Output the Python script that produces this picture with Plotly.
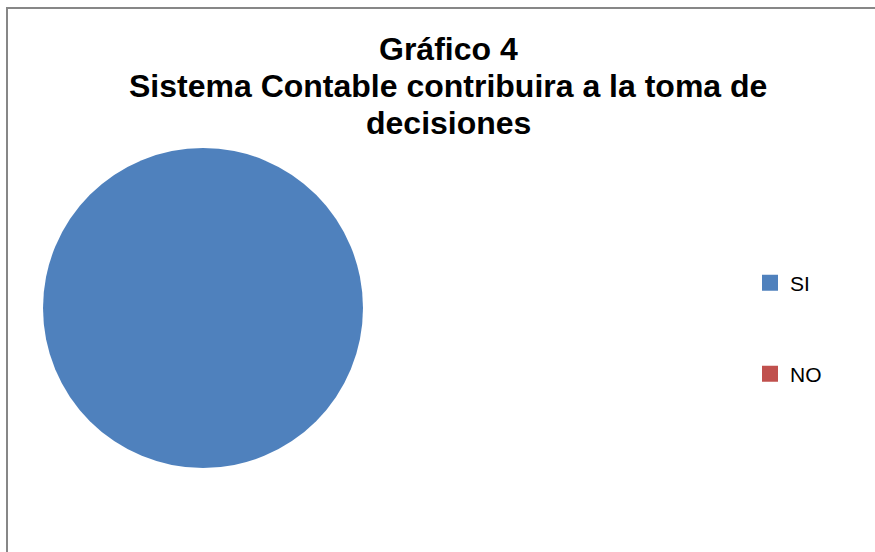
import plotly.graph_objects as go

# Respuestas de la encuesta (porcentaje)
labels = ["SI", "NO"]
values = [100, 0]
colors = ["#4F81BD", "#C0504D"]

# Título en tres renglones
title_lines = ["Gráfico 4", "Sistema Contable contribuira a la toma de", "decisiones"]

W, H = 875, 552

fig = go.Figure()

# Torta con ambas respuestas
fig.add_trace(go.Pie(
    labels=labels,
    values=values,
    marker=dict(colors=colors, line=dict(width=0)),
    textinfo="none",
    sort=False,
    domain=dict(x=[43 / W, 363 / W], y=[84 / H, 404 / H]),
    showlegend=False,
    hovertemplate="%{label}: %{value}%<extra></extra>",
))

# Entradas de leyenda (una por respuesta, cada una en su propia leyenda)
legend_ids = ["legend", "legend2"]
for lab, col, lg in zip(labels, colors, legend_ids):
    fig.add_trace(go.Scatter(
        x=[None], y=[None], mode="markers", name=lab,
        marker=dict(symbol="square", size=16, color=col, line=dict(width=0)),
        legend=lg, showlegend=True, hoverinfo="skip",
    ))

legend_font = dict(family="Liberation Sans, Arial, sans-serif", size=21, color="#000000")

title_font = dict(family="Liberation Sans, Arial, sans-serif", size=32, color="#000000")
line_centers = [49, 86, 123]
annotations = [
    dict(text=f"<b>{t}</b>", xref="paper", yref="paper",
         x=448 / W, xanchor="center", y=1 - yc / H, yanchor="middle",
         showarrow=False, font=title_font)
    for t, yc in zip(title_lines, line_centers)
]

fig.update_layout(
    width=W,
    height=H,
    margin=dict(l=0, r=0, t=0, b=0),
    paper_bgcolor="white",
    plot_bgcolor="white",
    showlegend=True,
    xaxis=dict(visible=False),
    yaxis=dict(visible=False),
    annotations=annotations,
    legend=dict(x=750 / W, xanchor="left", y=1 - 283 / H, yanchor="middle",
                font=legend_font, bgcolor="rgba(0,0,0,0)"),
    legend2=dict(x=750 / W, xanchor="left", y=1 - 374 / H, yanchor="middle",
                 font=legend_font, bgcolor="rgba(0,0,0,0)"),
    shapes=[
        # Marco del área del gráfico
        dict(type="rect", xref="paper", yref="paper",
             x0=7 / W, x1=1.05, y0=-0.05, y1=1 - 8 / H,
             line=dict(color="#878787", width=2), fillcolor="rgba(0,0,0,0)"),
    ],
)

fig.write_html("out.html")
